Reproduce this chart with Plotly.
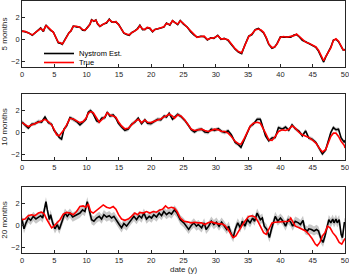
import plotly.graph_objects as go
from plotly.subplots import make_subplots

# ---------------- data ----------------
# Panel 1: 5 months
x1 = [0, 0.46, 0.98, 1.6, 2.01, 2.53, 2.89, 3.3, 3.71, 4.07,
      4.43, 4.85, 5.1, 5.36, 5.62, 5.98, 6.24, 6.55, 6.91, 7.27,
      7.58, 7.94, 8.45, 8.97, 9.38, 9.74, 10.1, 10.52, 10.77, 11.13,
      11.44, 11.7, 12.06, 12.58, 13.09, 13.51, 13.87, 14.23, 14.54, 14.95,
      15.41, 15.77, 16.19, 16.6, 16.96, 17.47, 17.89, 18.25, 18.66, 19.02,
      19.38, 19.79, 20.21, 20.57, 21.08, 21.6, 21.96, 22.37, 22.89, 23.3,
      23.6, 24.1, 24.5, 25, 25.6, 26.1, 26.6, 27.1, 27.7, 28.2,
      28.7, 29.2, 29.7, 30.3, 30.8, 31.3, 31.9, 32.4, 33.0, 33.5,
      34.0, 34.5, 35.1, 35.6, 36.1, 36.6, 37.0, 37.4, 37.8, 38.2,
      38.7, 39.1, 39.5, 40.0, 40.5, 41.0, 41.6, 42.1, 42.5, 42.9,
      43.4, 43.9, 44.4, 44.9, 45.5, 45.9, 46.3, 46.7, 47.0, 47.4,
      47.8, 48.2, 48.6, 49.0, 49.4, 49.7, 50.0]
true1 = [0.74, 0.74, 0.6, 0.42, 0.6, 0.86, 1.0, 0.8, 1.25, 1.1,
         0.86, 0.65, 0.35, 0, -0.25, -0.3, -0.4, -0.15, 0.27, 0.6,
         0.8, 1.2, 1.2, 1.1, 0.9, 0.86, 1.04, 1.4, 1.75, 1.7,
         1.75, 1.45, 1.2, 1.35, 1.55, 1.8, 1.63, 1.55, 1.63, 1.35,
         0.95, 0.6, 0.5, 0.42, 0.6, 0.8, 0.95, 1.25, 0.95, 0.9,
         1.1, 1.04, 0.74, 0.9, 1.0, 1.04, 1.15, 1.45, 1.35, 1.7,
         1.55, 1.4, 1.7, 1.45, 1.1, 0.74, 0.45, 0.2, 0.27, 0.3,
         0, 0.12, 0.15, 0.35, 0.06, 0.06, -0.03, -0.4, -0.83, -1.1,
         -1.2, -0.53, 0.27, 0.5, 0.86, 0.95, 0.86, 0.65, 0.2, -0.4,
         -0.74, -0.68, -0.4, 0.2, 0.27, 0.2, 0.27, 0.35, 0.5, 0.3,
         -0.03, -0.24, -0.33, -0.47, -0.68, -0.98, -1.42, -1.93, -1.57, -1.2,
         -0.77, -0.09, 0.06, -0.15, -0.6, -0.92, -0.98]
est1 = [0.78, 0.7, 0.62, 0.38, 0.62, 0.9, 1.05, 0.72, 1.32, 1.05,
        0.82, 0.68, 0.3, -0.05, -0.3, -0.35, -0.45, -0.1, 0.3, 0.62,
        0.78, 1.22, 1.15, 1.12, 0.85, 0.82, 1.08, 1.38, 1.8, 1.65,
        1.78, 1.4, 1.18, 1.4, 1.5, 1.85, 1.6, 1.58, 1.58, 1.38,
        0.9, 0.58, 0.45, 0.38, 0.62, 0.78, 1.0, 1.3, 0.9, 0.92,
        1.08, 1.0, 0.7, 0.92, 0.98, 1.08, 1.12, 1.5, 1.3, 1.72,
        1.6, 1.35, 1.72, 1.4, 1.12, 0.7, 0.42, 0.22, 0.3, 0.25,
        -0.05, 0.15, 0.1, 0.38, 0.02, 0.1, -0.08, -0.45, -0.88, -1.15,
        -1.28, -0.5, 0.3, 0.45, 0.9, 1.0, 0.82, 0.6, 0.15, -0.45,
        -0.8, -0.7, -0.35, 0.25, 0.22, 0.25, 0.22, 0.4, 0.45, 0.25,
        -0.08, -0.2, -0.38, -0.5, -0.72, -1.05, -1.48, -2.05, -1.6, -1.15,
        -0.7, -0.05, 0.02, -0.2, -0.65, -0.95, -0.92]

# Panel 2: 10 months
x2 = [0, 0.46, 0.98, 1.49, 2.01, 2.53, 3.04, 3.56, 4.07, 4.59,
      4.95, 5.36, 5.77, 6.13, 6.49, 6.91, 7.42, 7.94, 8.45, 8.97,
      9.48, 9.9, 10.26, 10.62, 11.03, 11.55, 11.96, 12.32, 12.84, 13.2,
      13.61, 14.12, 14.54, 14.9, 15.41, 15.93, 16.44, 16.96, 17.47, 17.99,
      18.5, 19.02, 19.43, 19.95, 20.46, 20.98, 21.49, 22.01, 22.37, 22.78,
      23.3,
      23.6, 24.1, 24.6, 25.2, 25.7, 26.2, 26.7, 27.2, 27.8, 28.3,
      28.8, 29.3, 29.8, 30.4, 30.9, 31.4, 31.9, 32.4, 33.0, 33.5,
      33.9, 34.3, 34.8, 35.3, 35.8, 36.4, 36.9, 37.2, 37.7, 38.2,
      38.7, 39.2, 39.7, 40.3, 40.8, 41.3, 41.8, 42.3, 42.9, 43.4,
      43.9, 44.4, 44.9, 45.5, 46.0, 46.5, 47.0, 47.4, 47.8, 48.2,
      48.6, 49.0, 49.4, 49.9, 50.0]
true2 = [0.9, 0.75, 0.54, 0.69, 0.84, 0.93, 1.05, 1.2, 1.0, 0.69,
         0.3, -0.21, -0.3, -0.06, 0.24, 0.69, 1.29, 1.23, 1.08, 0.9,
         1.0, 1.29, 1.74, 1.9, 1.8, 1.29, 0.93, 1.14, 1.44, 1.8,
         1.59, 1.5, 1.38, 1.0, 0.6, 0.33, 0.39, 0.69, 1.0, 1.2,
         0.9, 1.14, 0.93, 0.9, 1.05, 1.14, 1.23, 1.44, 1.5, 1.68,
         1.5,
         1.29, 1.59, 1.5, 1.14, 0.75, 0.3, 0.18, 0.24, 0.3, 0.18,
         0.09, 0.18, 0.3, 0.24, 0.09, 0.09, -0.06, -0.36, -0.81, -1.02,
         -1.05, -0.66, 0, 0.54, 0.84, 0.93, 0.84, 0.54, -0.06, -0.66,
         -0.72, -0.36, 0.09, 0.24, 0.18, 0.3, 0.6, 0.39, 0, -0.21,
         -0.3, -0.45, -0.66, -0.96, -1.41, -1.77, -1.56, -0.96, -0.36, -0.06,
         -0.06, -0.36, -0.81, -1.17, -1.41]
est2 = [0.95, 0.65, 0.4, 0.75, 0.8, 1.0, 0.95, 1.4, 0.9, 0.75,
        0.2, -0.1, -0.45, -0.6, 0.3, 0.6, 1.35, 1.2, 1.0, 0.7,
        0.95, 1.2, 1.85, 2.0, 1.7, 1.05, 0.95, 1.3, 1.35, 1.85,
        1.5, 1.6, 1.3, 0.85, 0.5, 0.2, 0.3, 0.75, 0.95, 1.3,
        0.8, 1.15, 0.85, 0.8, 1.0, 1.2, 1.15, 1.5, 1.4, 1.75,
        1.2,
        1.4, 1.65, 1.45, 1.1, 0.7, 0.25, 0.05, 0.25, 0.3, 0.05,
        0.0, 0.3, 0.2, 0.35, 0.1, 0.0, 0.15, -0.2, -0.9, -1.1,
        -1.35, -0.8, -0.2, 0.55, 0.75, 1.2, 1.2, 0.6, -0.3, -0.75,
        -0.5, -0.45, 0.45, 0.3, 0.5, 0.2, 0.7, 0.35, 0.1, -0.3,
        0.15, -0.5, -0.6, -0.9, -1.5, -1.95, -1.6, -0.8, 0.0, 0.45,
        0.25, 0.3, -0.5, -0.9, -0.7]

# Panel 3: 20 months
x3_true = [0, 0.46, 0.98, 1.49, 2.01, 2.53, 3.04, 3.45, 3.81, 4.23,
           4.59, 4.95, 5.36, 5.88, 6.39, 6.91, 7.42, 7.94, 8.45, 8.97,
           9.48, 9.9, 10.26, 10.62, 11.03, 11.55, 12.06, 12.58, 13.09, 13.61,
           14.12, 14.54, 14.95, 15.41, 15.93, 16.44, 16.96, 17.47, 17.89, 18.25,
           18.76, 19.28, 19.79, 20.31, 20.82, 21.34, 21.75, 22.22, 22.63, 23.14,
           23.6, 24.0, 24.5, 25.05, 25.6, 26.2, 26.7, 27.2, 27.8, 28.3,
           28.8, 29.3, 29.8, 30.4, 30.9, 31.4, 31.9, 32.3, 32.7, 33.1,
           33.5, 34.0, 34.5, 35.1, 35.6, 36.1, 36.5, 36.9, 37.4, 37.8,
           38.2, 38.7, 39.2, 39.7, 40.3, 40.8, 41.3, 41.6, 41.9, 42.3,
           42.9, 43.4, 43.9, 44.4, 44.9, 45.4, 45.7, 46.1, 46.5, 46.9,
           47.3, 47.7, 48.1, 48.6, 49.1, 49.5, 49.9, 50.0]
true3 = [0.53, 0.59, 0.89, 0.98, 0.89, 1.13, 1.21, 1.04, 0.59, 0.09,
         -0.21, -0.06, 0.24, 0.53, 1.04, 1.19, 1.13, 0.98, 1.27, 1.72,
         1.78, 1.66, 1.95, 1.27, 1.13, 1.36, 1.57, 1.87, 1.66, 1.57,
         1.72, 1.48, 0.98, 0.59, 0.47, 0.59, 0.83, 1.13, 0.98, 1.19,
         1.13, 1.27, 1.13, 1.27, 1.21, 1.42, 1.48, 1.78, 1.57, 1.66,
         1.57, 1.27, 0.68, 0.39, 0.33, 0.24, 0.3, 0.24, 0.24, 0.09,
         0.24, 0.33, 0.24, 0.15, 0.15, 0, -0.36, -0.8, -1.1, -0.95,
         -0.5, -0.06, 0.39, 0.83, 0.89, 0.77, 0.39, -0.06, -0.65, -0.8,
         -0.36, 0.24, 0.3, 0.33, 0.3, 0.33, 0.39, 0.68, 0.3, -0.06,
         -0.21, -0.36, -0.5, -0.8, -1.18, -1.69, -1.84, -1.54, -0.95, -0.65,
         -0.06, -0.21, -0.65, -1.0, -1.54, -1.69, -1.24, -1.18]
x3_est = [0, 0.31, 0.62, 0.98, 1.34, 1.75, 2.16, 2.53, 2.89, 3.2,
          3.45, 3.71, 3.92, 4.23, 4.43, 4.74, 5.1, 5.46, 5.77, 6.13,
          6.39, 6.65, 7.01, 7.42, 7.84, 8.2, 8.56, 8.97, 9.38, 9.74,
          10.1, 10.41, 10.77, 11.13, 11.55, 11.96, 12.32, 12.68, 13.09, 13.51,
          13.87, 14.23, 14.64, 15.05, 15.41, 15.77, 16.19, 16.6, 16.96, 17.32,
          17.73, 18.14, 18.51, 18.87, 19.28, 19.69, 20.05, 20.41, 20.82, 21.24,
          21.6, 21.96, 22.37, 22.78, 23.14,
          23.6, 24.0, 24.5, 25.05, 25.4, 25.8, 26.2, 26.6, 27.0, 27.3,
          27.8, 28.2, 28.5, 28.9, 29.3, 29.7, 30.1, 30.5, 30.9, 31.3,
          31.7, 32.0, 32.3, 32.7, 33.0, 33.4, 33.8, 34.1, 34.5, 34.9,
          35.3, 35.7, 36.0, 36.4, 36.6, 36.9, 37.2, 37.5, 37.9, 38.3,
          38.6, 38.9, 39.2, 39.6, 40.0, 40.4, 40.8, 41.2, 41.6, 41.9,
          42.3, 42.8, 43.1, 43.5, 43.8, 44.2, 44.4, 44.8, 45.2, 45.6,
          45.9, 46.3, 46.6, 46.9, 47.3, 47.5, 47.8, 48.1, 48.3, 48.6,
          48.8, 49.1, 49.4, 49.6, 49.9, 50.0]
est3 = [0.59, -0.3, 0.24, 0.68, 0.47, 0.83, 0.59, 0.77, 0.89, 0.68,
        1.27, 2.16, 1.42, 0.53, 0.98, 0.24, -0.3, 0.09, -0.36, 0.24,
        0.68, 1.13, 0.83, 1.13, 0.77, 0.89, 0.98, 1.13, 1.42, 1.27,
        2.16, 1.27, 0.53, 0.39, 0.68, 0.83, 0.59, 0.98, 0.77, 0.89,
        0.68, 0.83, 0.39, 0.09, -0.21, 0.18, -0.06, 0.3, 0.59, 0.83,
        0.53, 0.89, 0.68, 1.13, 0.59, 0.83, 0.68, 0.98, 0.77, 1.13,
        0.89, 1.27, 0.98, 1.19, 1.04,
        1.42, 1.13, 0.53, 0.24, -0.06, -0.36, 0, 0.24, -0.06, 0.09,
        -0.21, 0.24, -0.36, -0.06, 0.39, 0.09, 0.3, -0.06, 0.3, -0.06,
        -0.36, -0.06, -0.65, -1.1, -0.36, 0.24, -0.21, 0.39, -0.06, 0.53,
        0.24, 0.68, 0.39, 1.13, 0.83, 0.53, 0.68, -0.06, -0.36, -1.1,
        -0.36, 0.24, 0.83, 0.39, 0.68, 0.39, -0.06, 0.53, 0.3, -0.06,
        0.39, 0.24, 0.09, 0.47, -0.36, -0.5, -0.3, -0.36, -0.5, -0.36,
        -0.5, -1.24, -1.54, -0.95, -0.06, 0.53, 0.24, 0.59, 0.24, 0.59,
        0.24, 0.53, -0.8, -1.1, 0.24, 0.24]

# uncertainty half-widths (one per panel)
band_half = [0.06, 0.18, 0.42]
panel_titles = ["5 months", "10 months", "20 months"]
x_ticks = [0, 5, 10, 15, 20, 25, 30, 35, 40, 45, 50]
y_ticks = [-2, 0, 2]
legend_names = ["Nystrom Est.", "True"]

# ---------------- figure ----------------
fig = make_subplots(rows=3, cols=1)

panels = [(x1, est1, x1, true1), (x2, est2, x2, true2), (x3_est, est3, x3_true, true3)]
AX = "#262626"
FONT = "Liberation Sans, Arial, sans-serif"

for i, (xe, ye, xt, yt) in enumerate(panels):
    r = i + 1
    h = band_half[i]
    upper = [v + h for v in ye]
    lower = [v - h for v in ye]
    fig.add_trace(go.Scatter(x=xe + xe[::-1], y=upper + lower[::-1], fill="toself",
                             fillcolor="#c8c8c8", line=dict(width=0), mode="lines",
                             showlegend=False, hoverinfo="skip"), row=r, col=1)
    fig.add_trace(go.Scatter(x=xe, y=ye, mode="lines", line=dict(color="black", width=1.6),
                             name=legend_names[0], showlegend=(i == 0), legend="legend"),
                  row=r, col=1)
    fig.add_trace(go.Scatter(x=xt, y=yt, mode="lines", line=dict(color="#ff0000", width=1.6),
                             name=legend_names[1], showlegend=(i == 0), legend="legend2"),
                  row=r, col=1)

H = 252.0
bot = 253.0
doms = [((bot - 67) / H, (bot - 1) / H), ((bot - 160) / H, (bot - 94) / H), (0.0, (bot - 187) / H)]

for i in range(3):
    r = i + 1
    fig.update_xaxes(range=[0, 50], tickvals=x_ticks, ticks="inside", ticklen=3, tickcolor=AX,
                     showline=True, mirror=True, linecolor=AX, linewidth=0.8, showgrid=False,
                     zeroline=False, automargin=False, ticklabeloverflow="allow",
                     tickfont=dict(size=7.5, color=AX, family=FONT),
                     row=r, col=1)
    fig.update_yaxes(range=[-2.5, 3.5], tickvals=y_ticks, ticks="inside", ticklen=3, tickcolor=AX,
                     showline=True, mirror=True, linecolor=AX, linewidth=0.8, showgrid=False,
                     zeroline=False, automargin=False, ticklabeloverflow="allow",
                     tickfont=dict(size=7.5, color=AX, family=FONT),
                     domain=list(doms[i]),
                     title=dict(text=panel_titles[i], font=dict(size=8, color=AX, family=FONT),
                                standoff=2),
                     row=r, col=1)

fig.update_xaxes(title=dict(text="date (y)", font=dict(size=8, color=AX, family=FONT), standoff=2),
                 row=3, col=1)

leg_x = (44 - 22 - 5) / 323.0
fig.update_layout(
    width=349, height=275,
    margin=dict(l=22, r=4, t=1, b=22),
    plot_bgcolor="white", paper_bgcolor="white",
    font=dict(family=FONT, color=AX),
    legend=dict(x=leg_x, y=(bot - 39) / H, xanchor="left", yanchor="top",
                bgcolor="rgba(0,0,0,0)", font=dict(size=7.5, color="black", family=FONT),
                itemwidth=30, tracegroupgap=0),
    legend2=dict(x=leg_x, y=(bot - 48) / H, xanchor="left", yanchor="top",
                 bgcolor="rgba(0,0,0,0)", font=dict(size=7.5, color="black", family=FONT),
                 itemwidth=30, tracegroupgap=0),
)

fig.write_html("out.html", config={"displayModeBar": False},
               post_script="document.body.style.margin='0';document.body.style.overflow='hidden';")
